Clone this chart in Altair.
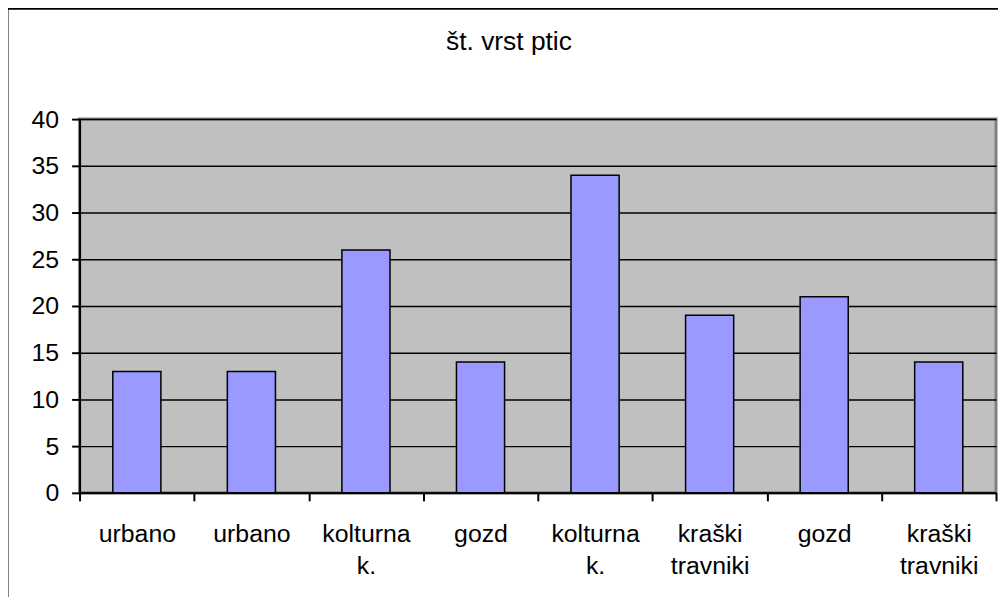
import altair as alt
import pandas as pd

title_text = "št. vrst ptic"
categories = ["urbano", "urbano", "kolturna|k.", "gozd", "kolturna|k.", "kraški|travniki", "gozd", "kraški|travniki"]
values = [13, 13, 26, 14, 34, 19, 21, 14]
y_ticks = [0, 5, 10, 15, 20, 25, 30, 35, 40]

ids = [str(i) for i in range(len(categories))]
df = pd.DataFrame({"id": ids, "label": categories, "value": values})

label_array = "[" + ",".join("'" + c + "'" for c in categories) + "]"
label_expr = (f"isValid(datum.value) && isValid({label_array}[toNumber(datum.value)]) ? "
              f"split({label_array}[toNumber(datum.value)], '|') : ''")

FONT = "Liberation Sans"
W, H = 922, 376
PL, PT = 72, 110

bars = alt.Chart(df).mark_bar(
    color="#9999FF", stroke="#000000", strokeWidth=1.5,
    width=alt.RelativeBandSize(0.42)
).encode(
    x=alt.X("id:N", sort=ids, title=None,
            scale=alt.Scale(paddingInner=0, paddingOuter=0),
            axis=alt.Axis(labelExpr=label_expr, labelAngle=0, tickBand="extent",
                          domainColor="#000000", domainWidth=2, tickColor="#000000",
                          tickWidth=2, tickSize=8, labelPadding=21, labelFontSize=25,
                          labelLineHeight=32, labelFont=FONT, labelColor="#000000",
                          grid=False, labelBaseline="top")),
    y=alt.Y("value:Q", title=None,
            scale=alt.Scale(domain=[0, 40], nice=False),
            axis=alt.Axis(values=y_ticks, grid=True, gridColor="#000000", gridWidth=1.5,
                          domainColor="#000000", domainWidth=2, tickColor="#000000",
                          tickWidth=2, tickSize=8, labelPadding=13, labelFontSize=25,
                          labelFont=FONT, labelColor="#000000")),
)

frame = alt.Chart(pd.DataFrame({"f": [0]})).mark_rect(
    fill="#FFFFFF", fillOpacity=0, stroke="#000000", strokeWidth=3, clip=False
).encode(
    x=alt.value(-PL - 1), x2=alt.value(W + 60),
    y=alt.value(-PT - 1.5), y2=alt.value(H + 200)
)

title = alt.Chart(pd.DataFrame({"t": [title_text]})).mark_text(
    font=FONT, fontSize=26.5, color="#000000", baseline="alphabetic", align="center"
).encode(
    text="t:N", x=alt.value(432), y=alt.value(-70)
)

chart = alt.layer(frame, bars, title).properties(
    width=W, height=H,
    background="#FFFFFF",
    autosize=alt.AutoSizeParams(type="none"),
    padding={"left": PL, "top": PT, "right": 2, "bottom": 103},
).configure_view(
    fill="#C0C0C0", stroke="#808080", strokeWidth=3
)

chart.save("out.html", embed_options={"renderer": "svg", "actions": False})
